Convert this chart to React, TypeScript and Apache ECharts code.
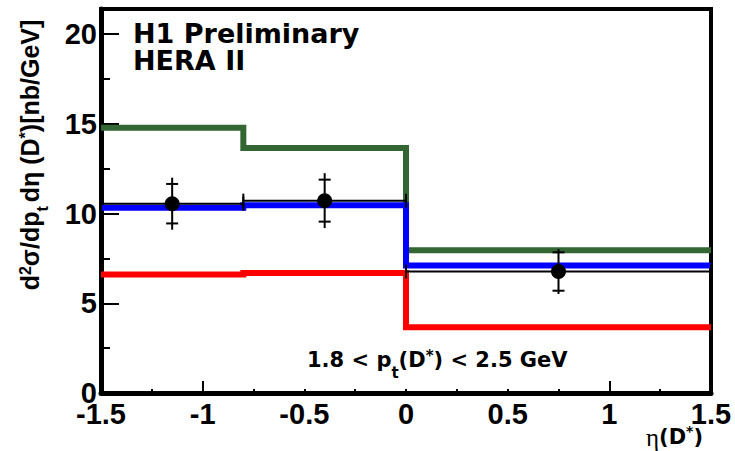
import React, { useEffect, useRef } from "react";
import * as echarts from "echarts";

const binEdges = [-1.5, -0.8, 0, 1.5];
const etaCenters = [-1.15, -0.4, 0.75];
const dataValues = [10.55, 10.72, 6.77];
const statErrors = [1.1, 1.17, 1.07];
const totalErrors = [1.45, 1.53, 1.25];
const greenValues = [14.78, 13.65, 7.96];
const blueValues = [10.32, 10.47, 7.11];
const redValues = [6.61, 6.69, 3.67];

const xLabelValues = [-1.5, -1, -0.5, 0, 0.5, 1, 1.5];
const xSmallTicks = [-1.25, -0.75, -0.5, -0.25, 0, 0.25, 0.5, 0.75, 1.25];
const xTallTicks = [-1, 1];
const yLabelValues = [0, 5, 10, 15, 20];
const yMinorTicks = [2.5, 7.5, 12.5, 17.5];

const FONT = "'Liberation Sans', Arial, Helvetica, sans-serif";
const WIDE = "'DejaVu Sans', 'Liberation Sans', sans-serif";

function stepData(values: number[]) {
  return binEdges.map((e, i) => [e, values[Math.min(i, values.length - 1)]]);
}

export default function App() {
  const ref = useRef<HTMLDivElement>(null);
  useEffect(() => {
    if (!ref.current) return;
    const chart = echarts.init(ref.current, null, { renderer: "svg" });
    const X_MIN = -1.5, X_MAX = 1.5, Y_MIN = 0, Y_MAX = 21.4;
    const stepSeries = (name: string, values: number[], color: string, z: number) => ({
      name,
      type: "line",
      step: "end",
      data: stepData(values),
      symbol: "none",
      z,
      lineStyle: { color, width: 6, cap: "butt", join: "miter" },
    });
    const option: any = {
      animation: false,
      backgroundColor: "#ffffff",
      grid: {
        left: 101, right: 24, top: 9, bottom: 58,
        show: true, borderColor: "#000", borderWidth: 4, backgroundColor: "transparent",
      },
      xAxis: [
        {
          type: "value", min: X_MIN, max: X_MAX, position: "bottom",
          axisLine: { show: true, onZero: false, lineStyle: { color: "#000", width: 5 } },
          axisTick: { show: true, inside: true, length: 4, customValues: xSmallTicks, lineStyle: { color: "#000", width: 2 } },
          axisLabel: {
            show: true, customValues: xLabelValues, margin: 6,
            color: "#000", fontSize: 29, fontWeight: "bold", fontFamily: FONT,
            formatter: (v: number) => String(v),
          },
          splitLine: { show: false },
        },
        {
          type: "value", min: X_MIN, max: X_MAX, position: "bottom",
          axisLine: { show: false, onZero: false },
          axisTick: { show: true, inside: true, length: 12, customValues: xTallTicks, lineStyle: { color: "#000", width: 2 } },
          axisLabel: { show: false },
          splitLine: { show: false },
        },
      ],
      yAxis: [
        {
          type: "value", min: Y_MIN, max: Y_MAX, position: "left",
          axisLine: { show: true, onZero: false, lineStyle: { color: "#000", width: 5 } },
          axisTick: { show: true, inside: true, length: 18, customValues: yLabelValues, lineStyle: { color: "#000", width: 2 } },
          axisLabel: {
            show: true, customValues: yLabelValues, margin: 4,
            color: "#000", fontSize: 29, fontWeight: "bold", fontFamily: FONT,
          },
          splitLine: { show: false },
        },
        {
          type: "value", min: Y_MIN, max: Y_MAX, position: "left",
          axisLine: { show: false, onZero: false },
          axisTick: { show: true, inside: true, length: 9, customValues: yMinorTicks, lineStyle: { color: "#000", width: 2 } },
          axisLabel: { show: false },
          splitLine: { show: false },
        },
      ],
      series: [
        stepSeries("red", redValues, "#ff0000", 2),
        stepSeries("green", greenValues, "#336633", 3),
        stepSeries("blue", blueValues, "#0000ff", 4),
        {
          name: "data",
          type: "custom",
          z: 10,
          data: etaCenters.map((x, i) => [x, dataValues[i], binEdges[i], binEdges[i + 1], statErrors[i], totalErrors[i]]),
          renderItem: (params: any, api: any) => {
            const x = api.value(0), y = api.value(1);
            const lo = api.value(2), hi = api.value(3);
            const st = api.value(4), tot = api.value(5);
            const c = api.coord([x, y]);
            const l = api.coord([lo, y]);
            const h = api.coord([hi, y]);
            const ys1 = api.coord([x, y + st])[1];
            const ys2 = api.coord([x, y - st])[1];
            const yt1 = api.coord([x, y + tot])[1];
            const yt2 = api.coord([x, y - tot])[1];
            const st2 = { stroke: "#000", lineWidth: 2 };
            return {
              type: "group",
              children: [
                { type: "line", shape: { x1: l[0], y1: c[1], x2: h[0], y2: c[1] }, style: st2 },
                { type: "line", shape: { x1: l[0], y1: c[1] - 7, x2: l[0], y2: c[1] + 7 }, style: st2 },
                { type: "line", shape: { x1: h[0], y1: c[1] - 7, x2: h[0], y2: c[1] + 7 }, style: st2 },
                { type: "line", shape: { x1: c[0], y1: yt1, x2: c[0], y2: yt2 }, style: st2 },
                { type: "line", shape: { x1: c[0] - 6, y1: ys1, x2: c[0] + 6, y2: ys1 }, style: st2 },
                { type: "line", shape: { x1: c[0] - 6, y1: ys2, x2: c[0] + 6, y2: ys2 }, style: st2 },
                { type: "circle", shape: { cx: c[0], cy: c[1], r: 7.5 }, style: { fill: "#000" } },
              ],
            };
          },
        },
      ],
      graphic: [
        {
          type: "text", x: 133, y: 33,
          style: { text: "H1 Preliminary", fill: "#000", fontSize: 27, fontWeight: "bold", fontFamily: WIDE, align: "left", verticalAlign: "middle" },
        },
        {
          type: "text", x: 133, y: 60,
          style: { text: "HERA II", fill: "#000", fontSize: 27, fontWeight: "bold", fontFamily: WIDE, align: "left", verticalAlign: "middle" },
        },
        {
          type: "text", x: 307, y: 360,
          style: {
            text: "{m|1.8 < p}{sub|t}{m|(D}{sup|*}{m|) < 2.5 GeV}",
            align: "left", verticalAlign: "middle",
            rich: {
              m: { fontSize: 21, fontWeight: "bold", fontFamily: WIDE, fill: "#000", lineHeight: 40, verticalAlign: "middle" },
              sub: { fontSize: 15, fontWeight: "bold", fontFamily: WIDE, fill: "#000", lineHeight: 15, verticalAlign: "bottom" },
              sup: { fontSize: 15, fontWeight: "bold", fontFamily: WIDE, fill: "#000", lineHeight: 15, verticalAlign: "top", padding: [8, 0, 0, 0] },
            },
          },
        },
        {
          type: "text", x: 703, y: 437,
          style: {
            text: "{g|η}{m|(D}{sup|*}{m|)}",
            align: "right", verticalAlign: "middle",
            rich: {
              g: { fontSize: 25, fontFamily: "'Liberation Serif', 'DejaVu Serif', serif", fill: "#000", lineHeight: 28, verticalAlign: "middle" },
              m: { fontSize: 21, fontWeight: "bold", fontFamily: WIDE, fill: "#000", lineHeight: 28, verticalAlign: "middle" },
              sup: { fontSize: 14, fontWeight: "bold", fontFamily: WIDE, fill: "#000", lineHeight: 14, verticalAlign: "top", padding: [1, 0, 0, 0] },
            },
          },
        },
        {
          type: "text", x: 30, y: 155, rotation: Math.PI / 2,
          style: {
            text: "{m|d}{sup|2}{m|σ/dp}{sub|t}{m|dη (D}{sup|*}{m|)[nb/GeV]}",
            align: "center", verticalAlign: "middle",
            rich: {
              m: { fontSize: 25, fontWeight: "bold", fontFamily: FONT, fill: "#000", lineHeight: 40, verticalAlign: "middle" },
              sub: { fontSize: 16, fontWeight: "bold", fontFamily: FONT, fill: "#000", lineHeight: 16, verticalAlign: "bottom", padding: [0, 4, 0, 0] },
              sup: { fontSize: 16, fontWeight: "bold", fontFamily: FONT, fill: "#000", lineHeight: 16, verticalAlign: "top", padding: [7, 0, 0, 0] },
            },
          },
        },
      ],
    };
    chart.setOption(option);
    return () => chart.dispose();
  }, []);
  return <div ref={ref} style={{ width: 735, height: 451, position: "absolute", left: 0, top: 0 }} />;
}
